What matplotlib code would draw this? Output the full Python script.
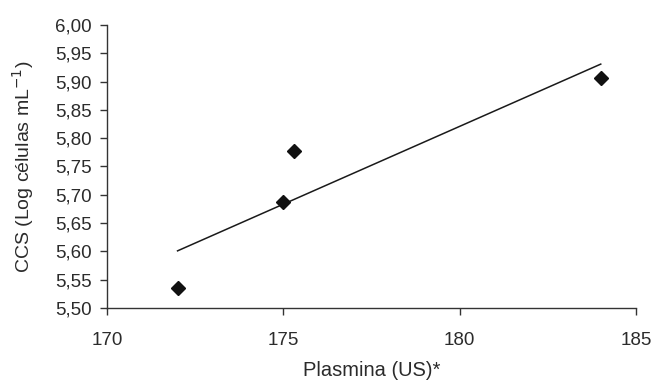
import numpy as np
import matplotlib
matplotlib.use('Agg')
import matplotlib.pyplot as plt
from matplotlib.ticker import FuncFormatter

# data
plasmina = [172.0, 175.0, 175.3, 184.0]
ccs = [5.535, 5.688, 5.778, 5.906]
xticks = [170, 175, 180, 185]
yticks = [5.50, 5.55, 5.60, 5.65, 5.70, 5.75, 5.80, 5.85, 5.90, 5.95, 6.00]

plt.rcParams['font.family'] = ['Liberation Sans', 'DejaVu Sans']
txt = '#2b2b2b'

fig = plt.figure(figsize=(6.55, 3.82), dpi=100)
ax = fig.add_axes([0.1634, 0.1937, 0.8076, 0.7409])

# linear trend line over the data range
k, b = np.polyfit(plasmina, ccs, 1)
xl = np.array([min(plasmina), max(plasmina)])
ax.plot(xl, k * xl + b, color='#1a1a1a', lw=1.1)

ax.plot(plasmina, ccs, 'D', color='#111111', markersize=7, clip_on=False)

ax.set_xlim(170, 185)
ax.set_ylim(5.50, 6.00)
ax.set_xticks(xticks)
ax.set_yticks(yticks)
ax.yaxis.set_major_formatter(FuncFormatter(lambda v, p: f'{v:.2f}'.replace('.', ',')))

for s in ['top', 'right']:
    ax.spines[s].set_visible(False)
for s in ['left', 'bottom']:
    ax.spines[s].set_color('#333333')
    ax.spines[s].set_linewidth(1.0)
ax.tick_params(direction='out', length=5, width=1, color='#333333',
               labelsize=13.5, labelcolor=txt, pad=6)
ax.tick_params(axis='x', pad=12)

ax.set_xlabel('Plasmina (US)*', fontsize=14.5, color=txt, labelpad=9)
ax.set_ylabel('CCS (Log células mL$^{-1}$)', fontsize=14, color=txt, labelpad=14)

fig.savefig('out.png', dpi=100)
